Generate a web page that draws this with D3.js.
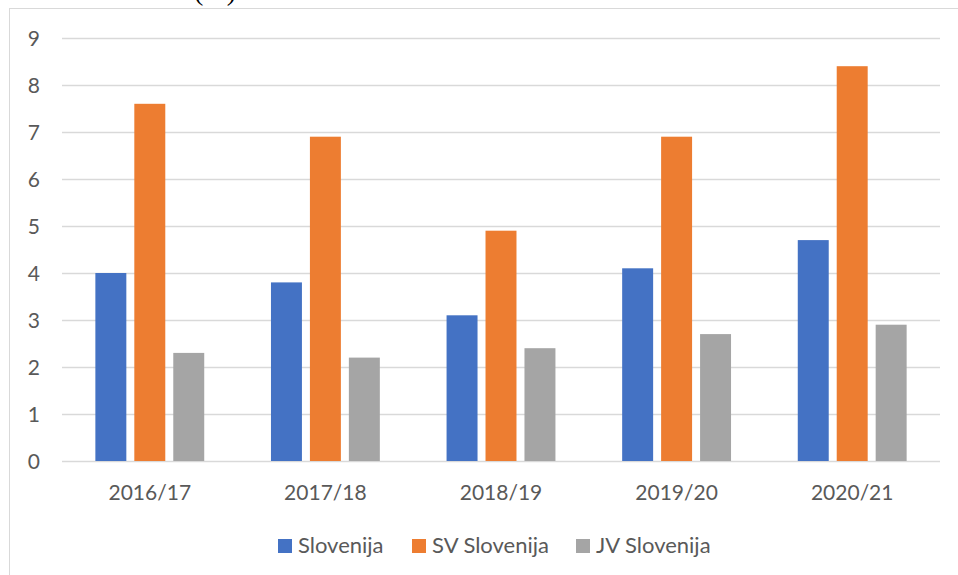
<!DOCTYPE html>
<html>
<head>
<meta charset="utf-8">
<script src="https://cdn.jsdelivr.net/npm/d3@7"></script>
<style>
  body { margin: 0; background: #fff; }
  text { font-family: Lato, "Open Sans", sans-serif; fill: #595959; }
</style>
</head>
<body>
<svg id="chart" width="958" height="575"></svg>
<script>
var categories = ["2016/17", "2017/18", "2018/19", "2019/20", "2020/21"];
var seriesNames = ["Slovenija", "SV Slovenija", "JV Slovenija"];
var slovenija = [4.0, 3.8, 3.1, 4.1, 4.7];
var svSlovenija = [7.6, 6.9, 4.9, 6.9, 8.4];
var jvSlovenija = [2.3, 2.2, 2.4, 2.7, 2.9];
var yTicks = [0, 1, 2, 3, 4, 5, 6, 7, 8, 9];
var colors = ["#4472C4", "#ED7D31", "#A5A5A5"];

var series = [slovenija, svSlovenija, jvSlovenija];

var svg = d3.select("#chart"),
  plotLeft = 62, plotRight = 940, plotTop = 38, plotBottom = 461;

// caption of the page above, cut off at the top
svg.append("text")
  .attr("x", 194)
  .attr("y", -0.5)
  .style("font-family", "'Liberation Serif', serif")
  .style("font-size", "28px")
  .style("fill", "#000")
  .text("(%)");

// chart area border
svg.append("rect")
  .attr("x", 9.5).attr("y", 8.5)
  .attr("width", 1000).attr("height", 1000)
  .attr("fill", "none")
  .attr("stroke", "#d9d9d9");

var y = d3.scaleLinear().domain([0, 9]).range([plotBottom, plotTop]);

var x0 = d3.scaleBand().domain(categories).range([plotLeft, plotRight])
  .paddingInner(0.38).paddingOuter(0.19);

var x1 = d3.scaleBand().domain(seriesNames).range([0, x0.bandwidth()])
  .paddingInner(0.205);

// gridlines
svg.append("g")
  .selectAll("line")
  .data(yTicks)
  .enter().append("line")
  .attr("x1", plotLeft).attr("x2", plotRight)
  .attr("y1", function(d) { return Math.round(y(d)) + 0.5; })
  .attr("y2", function(d) { return Math.round(y(d)) + 0.5; })
  .attr("stroke", "#d9d9d9")
  .attr("stroke-width", 1.3);

// y labels
svg.append("g")
  .selectAll("text")
  .data(yTicks)
  .enter().append("text")
  .attr("x", 40)
  .attr("y", function(d) { return y(d); })
  .attr("dy", "0.36em")
  .style("text-anchor", "end")
  .style("font-size", "21px")
  .text(function(d) { return d; });

// bars
var group = svg.append("g")
  .selectAll("g")
  .data(categories)
  .enter().append("g")
  .attr("transform", function(d) { return "translate(" + x0(d) + ",0)"; });

group.selectAll("rect")
  .data(function(d, i) {
    return seriesNames.map(function(name, s) {
      return { name: name, value: series[s][i], color: colors[s] };
    });
  })
  .enter().append("rect")
  .attr("x", function(d) { return x1(d.name); })
  .attr("y", function(d) { return y(d.value); })
  .attr("width", x1.bandwidth())
  .attr("height", function(d) { return plotBottom - y(d.value); })
  .attr("fill", function(d) { return d.color; });

// x labels
svg.append("g")
  .selectAll("text")
  .data(categories)
  .enter().append("text")
  .attr("x", function(d) { return x0(d) + x0.bandwidth() / 2; })
  .attr("y", 500)
  .style("text-anchor", "middle")
  .style("font-size", "21px")
  .text(function(d) { return d; });

// legend
var legendX = [278, 412, 576];
var legend = svg.append("g")
  .selectAll("g")
  .data(seriesNames)
  .enter().append("g")
  .attr("transform", function(d, i) { return "translate(" + legendX[i] + ",539)"; });

legend.append("rect")
  .attr("width", 14).attr("height", 14)
  .attr("fill", function(d, i) { return colors[i]; });

legend.append("text")
  .attr("x", 20)
  .attr("y", 14)
  .style("font-size", "22px")
  .text(function(d) { return d; });
</script>
</body>
</html>
